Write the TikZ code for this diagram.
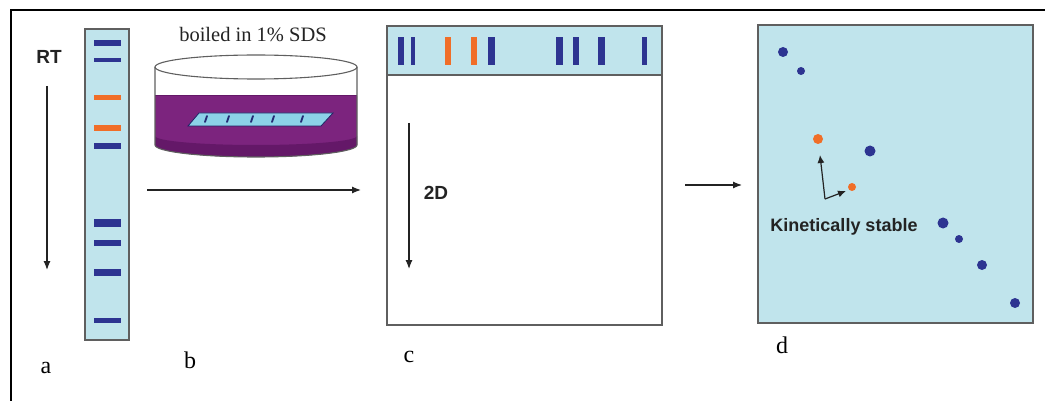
\documentclass[tikz,border=0pt]{standalone}
\usepackage{fontspec}
\setmainfont{Liberation Serif}
\setsansfont{Liberation Sans}
\usetikzlibrary{arrows.meta}

\definecolor{gel}{RGB}{192,228,236}
\definecolor{bandblue}{RGB}{45,52,145}
\definecolor{bandorange}{RGB}{240,110,40}
\definecolor{liquid}{RGB}{124,36,126}
\definecolor{liquiddark}{RGB}{100,24,104}
\definecolor{strip}{RGB}{140,210,232}
\definecolor{edge}{RGB}{95,95,95}
\definecolor{ink}{RGB}{35,35,35}

\tikzset{
  flow/.style={-{Latex[length=9pt,width=7pt]}, line width=1.2pt, draw=ink},
  pointer/.style={-{Latex[length=8pt,width=7pt]}, line width=1.2pt, draw=ink},
  gelbox/.style={draw=edge, line width=1.4pt, fill=gel},
  sanslabel/.style={font=\sffamily\bfseries\fontsize{19}{19}\selectfont, text=ink, inner sep=0pt},
  panellabel/.style={font=\fontsize{24}{24}\selectfont, text=black, inner sep=0pt, anchor=base},
  dishline/.style={draw=edge, line width=1.1pt},
}

\begin{document}
\begin{tikzpicture}[x=1pt, y=-1pt]
\useasboundingbox (0,0) rectangle (1045,401);

% outer frame (top and left rules)
\draw[line width=2.2pt] (11,401) -- (11,10) -- (1045,10);

% ---- (a) first-dimension lane ----
\draw[gelbox] (85,29) rectangle (129,340);
\foreach \y/\h/\c in {43/6/bandblue, 60/3.5/bandblue, 98/5/bandorange,
    128/6/bandorange, 146/6/bandblue, 223/7/bandblue, 243/6/bandblue,
    272/7/bandblue, 320/5/bandblue}
  \fill[\c] (94,{\y-\h/2}) rectangle (121,{\y+\h/2});
\node[sanslabel] (rt) at (49,57) {RT};
\coordinate (rtTop) at (47,86);
\coordinate (rtEnd) at (47,270);
\draw[flow] (rtTop) -- (rtEnd);

% ---- (b) strip boiled in SDS ----
\node[font=\fontsize{20.5}{20.5}\selectfont, text=ink, inner sep=0pt] (boil) at (253,35) {boiled in 1\% SDS};
% liquid
\fill[liquid] (155,96) -- (155,145) arc[start angle=180, end angle=0, x radius=101, y radius=12] -- (357,96) -- cycle;
\fill[liquiddark] (155,136) arc[start angle=180, end angle=0, x radius=101, y radius=9]
  -- (357,145) arc[start angle=0, end angle=180, x radius=101, y radius=12] -- cycle;
\draw[liquiddark, line width=1pt] (155,96) -- (357,96);
% gel strip in the liquid
\draw[fill=strip, draw=bandblue!70!black, line width=0.8pt] (199,113) -- (333,113) -- (321,126) -- (188,126) -- cycle;
\foreach \x in {207,229,253,274,303}
  \draw[bandblue!80!black, line width=1.8pt, line cap=round] (\x,116) -- (\x-2,122);
% dish outline
\draw[dishline] (256,67) ellipse[x radius=101, y radius=12];
\draw[dishline] (155,67) -- (155,145) arc[start angle=180, end angle=0, x radius=101, y radius=12] -- (357,67);

\coordinate (bStart) at (147,190);
\coordinate (bEnd) at (361,190);
\draw[flow] (bStart) -- (bEnd);

% ---- (c) second-dimension gel ----
\draw[draw=edge, line width=1.4pt, fill=white] (387,26) rectangle (662,325);
\draw[gelbox] (387,26) rectangle (662,75);
\foreach \x/\w/\c in {400.5/6/bandblue, 413/4/bandblue, 448/6/bandorange,
    474/6/bandorange, 491/7/bandblue, 559/7/bandblue, 576/6/bandblue,
    601/7/bandblue, 644/5/bandblue}
  \fill[\c] ({\x-\w/2},37) rectangle ({\x+\w/2},65);
\coordinate (twoTop) at (409,123);
\coordinate (twoEnd) at (409,269);
\draw[flow] (twoTop) -- (twoEnd);
\node[sanslabel] (twoD) at (436,193) {2D};

\coordinate (cStart) at (685,185);
\coordinate (cEnd) at (742,185);
\draw[flow] (cStart) -- (cEnd);

% ---- (d) spot pattern ----
\draw[gelbox] (758,25) rectangle (1033,323);
\foreach \x/\y/\r in {783/52/5, 801/71/4, 870/151/5.5, 943/223/5.5,
    959/239/4, 982/265/5, 1015/303/5}
  \fill[bandblue] (\x,\y) circle[radius=\r pt];
\fill[bandorange] (818,139) circle[radius=5pt];
\fill[bandorange] (852,187) circle[radius=4pt];

\coordinate (kCorner) at (825,199);
\coordinate (kUp) at (820,155);
\coordinate (kSide) at (846,191);
\draw[pointer] (kCorner) -- (kUp);
\draw[pointer] (kCorner) -- (kSide);
\node[sanslabel, font=\sffamily\bfseries\fontsize{18}{18}\selectfont] (kin) at (844,227) {Kinetically stable};

% panel letters
\node[panellabel] (la) at (46,373) {a};
\node[panellabel] (lb) at (190,368) {b};
\node[panellabel] (lc) at (409,362) {c};
\node[panellabel] (ld) at (782,353) {d};
\end{tikzpicture}
\end{document}
